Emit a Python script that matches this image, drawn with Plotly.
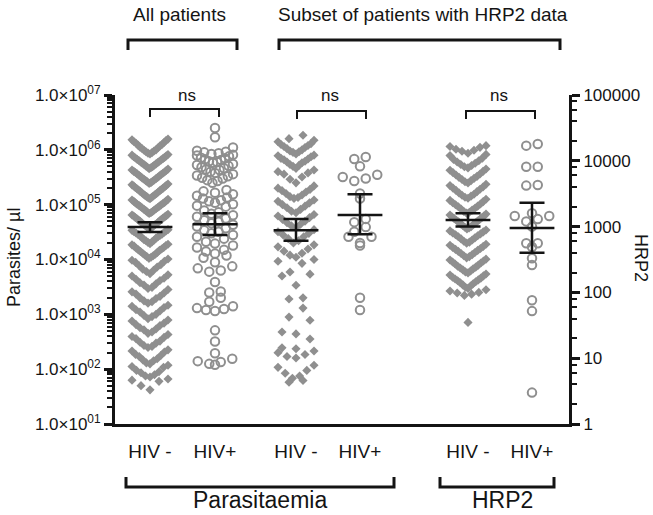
import numpy as np
import plotly.graph_objects as go

# ---------------- data ----------------
tick_labels = ["HIV -", "HIV+", "HIV -", "HIV+", "HIV -", "HIV+"]

# Parasites / µl, all patients
para_all_neg = [42, 50, 60, 63, 66, 72, 75, 79, 86, 90, 95, 108, 112, 118, 125, 130, 142, 148,
                155, 170, 178, 186, 205, 215, 225, 248, 260, 270, 298, 310, 325, 360, 380, 395,
                430, 450, 475, 520, 540, 570, 625, 650, 690, 755, 790, 830, 910, 950, 1000,
                1100, 1150, 1210, 1330, 1400, 1460, 1600, 1700, 1760, 1940, 2000, 2130, 2340,
                2450, 2570, 2830, 2950, 3100, 3420, 3600, 3760, 4130, 4350, 4540, 5000, 5250,
                5500, 6050, 6350, 6650, 7300, 7700, 8050, 8850, 9300, 9700,
                1.02e4, 1.05e4, 1.1e4, 1.13e4, 1.17e4, 1.21e4, 1.25e4, 1.3e4, 1.35e4, 1.4e4,
                1.47e4, 1.5e4, 1.55e4, 1.6e4, 1.65e4, 1.75e4, 1.8e4, 1.85e4, 1.9e4, 1.95e4,
                2.05e4, 2.1e4, 2.2e4, 2.25e4, 2.3e4, 2.45e4, 2.5e4, 2.6e4, 2.7e4, 2.75e4,
                2.85e4, 2.9e4, 3.05e4, 3.1e4, 3.2e4, 3.3e4, 3.4e4, 3.5e4, 3.6e4, 3.7e4,
                3.85e4, 3.95e4, 4.05e4, 4.2e4, 4.3e4, 4.4e4, 4.5e4, 4.65e4, 4.8e4, 4.95e4,
                5.1e4, 5.25e4, 5.4e4, 5.55e4, 5.7e4, 5.85e4, 6.0e4, 6.2e4, 6.3e4, 6.5e4,
                6.7e4, 6.9e4, 7.1e4, 7.3e4, 7.5e4, 7.8e4, 8.0e4, 8.2e4, 8.4e4, 8.7e4, 8.9e4,
                9.2e4, 9.4e4, 9.7e4, 9.9e4,
                1.02e5, 1.05e5, 1.08e5, 1.1e5, 1.15e5, 1.18e5, 1.22e5, 1.25e5, 1.28e5, 1.32e5,
                1.36e5, 1.4e5, 1.44e5, 1.47e5, 1.52e5, 1.55e5, 1.6e5, 1.65e5, 1.7e5, 1.75e5,
                1.8e5, 1.85e5, 1.9e5, 1.95e5, 2.0e5, 2.05e5, 2.12e5, 2.2e5, 2.25e5, 2.3e5,
                2.38e5, 2.45e5, 2.52e5, 2.6e5, 2.68e5, 2.75e5, 2.82e5, 2.9e5, 2.98e5, 3.05e5,
                3.15e5, 3.25e5, 3.35e5, 3.45e5, 3.55e5, 3.65e5, 3.75e5, 3.85e5, 3.95e5,
                4.05e5, 4.2e5, 4.3e5, 4.45e5, 4.55e5, 4.7e5, 4.8e5, 4.95e5, 5.1e5, 5.25e5,
                5.4e5, 5.55e5, 5.7e5, 5.85e5, 6.0e5, 6.2e5, 6.4e5, 6.55e5, 6.7e5, 6.9e5,
                7.1e5, 7.3e5, 7.5e5, 7.75e5, 8.0e5, 8.2e5, 8.4e5, 8.7e5, 8.9e5, 9.2e5, 9.5e5,
                9.8e5, 1.0e6, 1.06e6, 1.09e6, 1.12e6, 1.18e6, 1.22e6, 1.25e6, 1.32e6, 1.36e6,
                1.4e6, 1.48e6, 1.52e6, 1.57e6]
para_all_pos = [2.5e6, 1.7e6, 1.1e6,
                9.6e5, 9.2e5, 9.0e5, 8.7e5, 8.4e5, 8.1e5, 7.9e5, 7.6e5, 7.2e5, 7.0e5, 6.7e5,
                6.5e5, 6.2e5, 6.0e5, 5.8e5, 5.5e5, 5.3e5, 5.1e5, 4.8e5, 4.6e5, 4.4e5, 4.3e5,
                4.0e5, 3.8e5, 3.6e5, 3.4e5, 3.3e5, 3.1e5, 3.0e5, 2.8e5, 2.7e5, 2.5e5,
                1.85e5, 1.75e5, 1.65e5, 1.55e5, 1.45e5, 1.35e5, 1.3e5, 1.2e5, 1.15e5, 1.08e5,
                1.02e5, 9.6e4, 9.2e4,
                7.8e4, 7.3e4, 6.8e4, 6.4e4, 6.0e4, 5.6e4, 5.2e4, 4.9e4, 4.6e4, 4.3e4, 4.0e4,
                3.7e4, 3.4e4, 3.2e4, 3.0e4, 2.8e4, 2.6e4, 2.4e4,
                2.1e4, 1.95e4, 1.8e4, 1.65e4, 1.5e4, 1.4e4, 1.28e4, 1.18e4, 1.08e4,
                8.9e3, 7.5e3, 6.9e3, 6.3e3, 6.0e3, 3.9e3, 2.6e3, 2.5e3, 2.0e3, 1.7e3, 1.4e3,
                1.3e3, 1.25e3, 1.2e3, 1.15e3, 510, 320, 195, 155, 140, 135, 125, 120]

# Parasites / µl, subset with HRP2 data
para_sub_neg = [1.85e6, 1.6e6, 1.5e6, 1.4e6, 1.3e6,
                1.25e6, 1.2e6, 1.15e6, 1.1e6, 1.05e6, 1.0e6, 9.5e5, 9.2e5, 9.0e5, 8.4e5, 8.0e5,
                7.8e5, 7.5e5, 7.0e5, 6.8e5, 6.6e5, 6.2e5, 6.0e5, 5.8e5, 5.4e5, 5.2e5, 5.0e5,
                4.6e5, 4.3e5, 4.0e5, 3.8e5, 3.6e5,
                3.2e5, 2.9e5, 2.5e5, 2.2e5, 2.0e5, 1.9e5, 1.8e5, 1.7e5, 1.6e5, 1.5e5,
                1.4e5, 1.35e5, 1.3e5, 1.22e5, 1.15e5, 1.08e5, 1.0e5, 9.4e4, 8.8e4, 8.2e4, 7.6e4,
                7.1e4, 6.6e4, 6.2e4, 5.8e4, 5.4e4, 5.0e4, 4.7e4, 4.4e4, 4.1e4, 3.8e4,
                3.5e4, 3.2e4, 3.0e4, 2.8e4, 2.6e4, 2.4e4, 2.2e4, 2.0e4, 1.85e4, 1.7e4, 1.55e4,
                1.42e4, 1.3e4, 1.2e4, 1.1e4, 1.0e4, 9.3e3, 8.5e3,
                5.9e3, 5.4e3, 5.0e3, 3.4e3, 2.0e3, 1.9e3, 1.3e3, 890, 780, 475, 440, 355,
                245, 235, 215, 200, 185, 170, 160, 118, 108, 95, 84, 75, 68, 62, 58]
para_sub_pos = [7.4e5, 6.8e5, 5.0e5, 3.5e5, 3.2e5, 3.0e5, 2.7e5, 1.6e5, 1.3e5, 5.5e4, 4.8e4,
                3.9e4, 3.2e4, 2.6e4, 2.6e4, 2.0e4, 1.8e4, 2.0e3, 1.2e3]

# HRP2
hrp2_neg = [1.7e4, 1.65e4, 1.6e4, 1.5e4, 1.45e4, 1.4e4, 1.3e4, 1.25e4, 1.2e4, 1.1e4, 1.05e4,
            1.0e4, 9.6e3, 9.2e3, 8.8e3, 8.5e3, 8.1e3, 7.8e3, 7.5e3, 7.2e3, 6.9e3, 6.6e3,
            6.3e3, 6.1e3, 5.8e3, 5.6e3, 5.4e3, 5.2e3, 5.0e3, 4.8e3, 4.6e3, 4.4e3, 4.2e3,
            4.0e3, 3.85e3, 3.7e3, 3.55e3, 3.4e3, 3.25e3, 3.1e3, 3.0e3, 2.9e3, 2.8e3, 2.7e3,
            2.6e3, 2.5e3, 2.4e3, 2.3e3, 2.2e3, 2.15e3, 2.05e3, 2.0e3, 1.9e3, 1.85e3, 1.78e3,
            1.7e3, 1.65e3, 1.6e3, 1.55e3, 1.5e3, 1.45e3, 1.4e3, 1.36e3, 1.32e3, 1.28e3,
            1.25e3, 1.21e3, 1.18e3, 1.14e3, 1.1e3, 1.07e3, 1.04e3, 1.0e3, 980, 950, 920, 890,
            860, 830, 800, 775, 750, 725, 700, 675, 650, 625, 600, 580, 560, 540, 520, 500,
            480, 465, 450, 435, 420, 405, 390, 375, 360, 350, 335, 320, 310, 300, 290, 280,
            270, 260, 250, 242, 235, 228, 220, 212, 205, 198, 190, 184, 178, 170, 165, 160,
            155, 150, 145, 140, 135, 130, 125, 120, 115, 110, 105, 100, 98, 94, 90, 35]
hrp2_pos = [1.8e4, 1.7e4, 8.1e3, 8.1e3, 4.3e3, 4.2e3, 1.6e3, 1.45e3, 1.45e3, 1.3e3, 1.2e3,
            1.0e3, 560, 560, 490, 330, 260, 76, 52, 3.0]

# median with confidence interval
stat_median = [3.9e4, 4.4e4, 3.4e4, 6.5e4, 1260, 950]
stat_low = [3.16e4, 2.8e4, 2.2e4, 2.9e4, 1000, 400]
stat_high = [4.8e4, 7.0e4, 5.5e4, 1.55e5, 1600, 2300]

para_ticks = [1e1, 1e2, 1e3, 1e4, 1e5, 1e6, 1e7]
para_ticktext = ["1.0×10<sup>01</sup>", "1.0×10<sup>02</sup>", "1.0×10<sup>03</sup>",
                 "1.0×10<sup>04</sup>", "1.0×10<sup>05</sup>", "1.0×10<sup>06</sup>",
                 "1.0×10<sup>07</sup>"]
hrp2_ticks = [1, 10, 100, 1000, 10000, 100000]
hrp2_ticktext = ["1", "10", "100", "1000", "10000", "100000"]

# ---------------- layout geometry (pixels) ----------------
W, H = 653, 515
L, R, T, B = 115, 569, 95, 424   # plot area
GRAY = "#8f8f8f"
BLK = "#141414"
FONT = "Liberation Sans, Arial, sans-serif"
centers = [35, 100, 181, 245, 353, 417]   # x axis measured in pixels from the left axis


def ypix_para(v):
    return B - (np.log10(np.asarray(v, float)) - 1) / 6 * (B - T)


def ypix_hrp2(v):
    return B - np.log10(np.asarray(v, float)) / 5 * (B - T)


def column_offsets(ypx, s0, wmax, h):
    """GraphPad-like scatter dot layout: bin by height, spread each bin sideways."""
    ypx = np.asarray(ypx, float)
    off = np.zeros(len(ypx))
    bins = np.floor((B - ypx) / h).astype(int)
    for b in np.unique(bins):
        idx = np.where(bins == b)[0]
        idx = idx[np.argsort(-ypx[idx])]          # lowest value first -> centre
        n = len(idx)
        s = s0 if n < 2 else min(s0, wmax / (n - 1))
        slots = [(k - (n - 1) / 2) * s for k in range(n)]
        slots.sort(key=lambda v: (round(abs(v), 6), v))
        for i, sl in zip(idx, slots):
            off[i] = sl
    return off


def pp(py):
    return (B - py) / (B - T)


def px_paper(px):
    return (px - L) / (R - L)


fig = go.Figure()

groups = [
    (para_all_neg, "y", "diamond"),
    (para_all_pos, "y", "circle"),
    (para_sub_neg, "y", "diamond"),
    (para_sub_pos, "y", "circle"),
    (hrp2_neg, "y2", "diamond"),
    (hrp2_pos, "y2", "circle"),
]

for (vals, ax, kind), c in zip(groups, centers):
    ypx = ypix_para(vals) if ax == "y" else ypix_hrp2(vals)
    if kind == "diamond":
        off = column_offsets(ypx, 14, 36, 15)
        marker = dict(symbol="diamond", size=7, color=GRAY, line=dict(width=0))
    else:
        off = column_offsets(ypx, 11.5, 36, 10)
        marker = dict(symbol="circle-open", size=8.5, color=GRAY, line=dict(width=2, color=GRAY))
    fig.add_trace(go.Scatter(x=c + off, y=vals, mode="markers", marker=marker,
                             yaxis=ax, showlegend=False, cliponaxis=False, hoverinfo="y"))

for i, c in enumerate(centers):
    ax = "y" if i < 4 else "y2"
    m, lo, hi = stat_median[i], stat_low[i], stat_high[i]
    fig.add_trace(go.Scatter(
        x=[c], y=[m], mode="markers", yaxis=ax, showlegend=False, cliponaxis=False,
        marker=dict(symbol="line-ew", size=32, color=BLK, line=dict(width=2.5, color=BLK)),
        error_y=dict(type="data", symmetric=False, array=[hi - m], arrayminus=[m - lo],
                     width=12.5, thickness=2.5, color=BLK)))

shapes = []


def bracket(x0, x1, yh, yl, w):
    shapes.append(dict(type="path", xref="x", yref="paper", line=dict(color=BLK, width=w),
                       path=f"M {x0},{pp(yl)} L {x0},{pp(yh)} L {x1},{pp(yh)} L {x1},{pp(yl)}"))


# top group brackets
bracket(13, 122, 40, 50, 3)
bracket(164, 445, 40, 50, 3)
# ns brackets
bracket(centers[0], centers[1] + 4, 109, 117, 2)
bracket(centers[2] + 1, centers[3] + 6, 111, 119, 2)
bracket(centers[4] - 2, centers[5] + 3, 111, 119, 2)
# bottom brackets
bracket(11, 279, 487, 477, 3)
bracket(325, 439, 487, 477, 3)

ann = []


def text(px, py, s, size, angle=0):
    ann.append(dict(x=px_paper(px), y=pp(py), xref="paper", yref="paper", text=s,
                    showarrow=False, font=dict(size=size, color=BLK, family=FONT),
                    textangle=angle, xanchor="center", yanchor="middle"))


text(179, 14, "All patients", 19)
text(423, 14, "Subset of patients with HRP2 data", 19)
text(187, 96, "ns", 17)
text(330, 96, "ns", 17)
text(499, 96, "ns", 17)
text(260, 500, "Parasitaemia", 23)
text(502, 500, "HRP2", 23)
text(14, 258, "Parasites/ µl", 18, angle=-90)
text(641, 258, "HRP2", 18, angle=90)

axis_common = dict(showline=True, linewidth=3, linecolor=BLK, showgrid=False, zeroline=False)

fig.update_layout(
    width=W, height=H,
    margin=dict(l=L, r=W - R, t=T, b=H - B, autoexpand=False),
    paper_bgcolor="white", plot_bgcolor="white",
    font=dict(family=FONT, color=BLK),
    shapes=shapes, annotations=ann, showlegend=False,
    xaxis=dict(range=[0, R - L], tickvals=centers, ticktext=tick_labels, ticks="",
               tickfont=dict(size=19), ticklabelstandoff=8, **axis_common),
    yaxis=dict(type="log", range=[1, 7], tickvals=para_ticks, ticktext=para_ticktext,
               ticks="outside", ticklen=8, tickwidth=2.5, tickcolor=BLK,
               tickfont=dict(size=17),
               minor=dict(ticks="outside", ticklen=5, tickwidth=2, tickcolor=BLK, dtick="D1"),
               **axis_common),
    yaxis2=dict(type="log", range=[0, 5], overlaying="y", side="right",
                tickvals=hrp2_ticks, ticktext=hrp2_ticktext,
                ticks="outside", ticklen=8, tickwidth=2.5, tickcolor=BLK,
                tickfont=dict(size=17),
                minor=dict(ticks="outside", ticklen=5, tickwidth=2, tickcolor=BLK,
                           tickvals=[2, 4, 6, 8, 20, 40, 60, 80, 200, 400, 600, 800,
                                     2000, 4000, 6000, 8000, 20000, 40000, 60000, 80000]),
                **axis_common),
)

# the browser's default 8 px body margin would shift the 653x515 figure; remove it
fig.write_html("out.html", config={"displayModeBar": False},
               post_script="document.body.style.margin='0px';")
